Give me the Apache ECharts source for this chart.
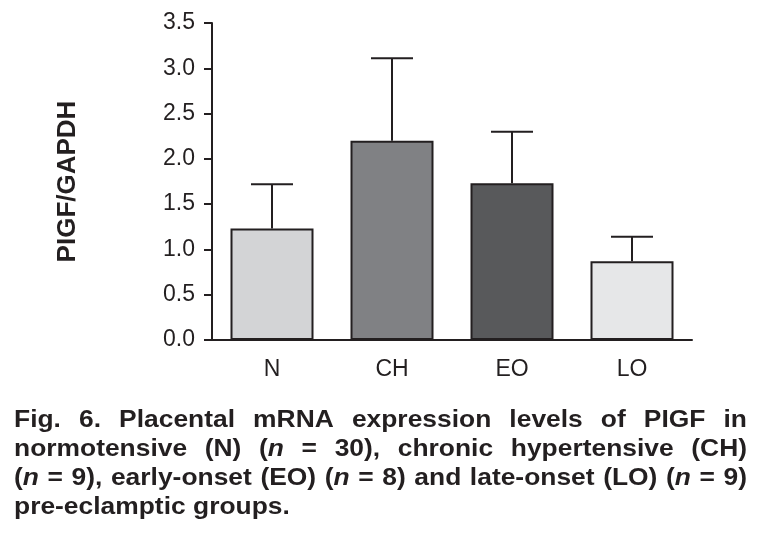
<!DOCTYPE html>
<html><head><meta charset="utf-8">
<script src="https://cdn.jsdelivr.net/npm/echarts@6/dist/echarts.min.js"></script>
<style>html,body{margin:0;padding:0;background:#fff}#c{width:761px;height:535px}</style>
</head><body><div id="c"></div>
<script>
// ---- data ----
const categories = ['N', 'CH', 'EO', 'LO'];
const means = [1.23, 2.20, 1.73, 0.87];
const sems = [0.49, 0.91, 0.57, 0.27];
const barColors = ['#d3d4d6', '#808184', '#58595b', '#e6e7e8'];
const yMin = 0, yMax = 3.5, yStep = 0.5;
const yAxisTitle = 'PIGF/GAPDH';
// *n* marks italic text
const captionLines = [
  'Fig. 6. Placental mRNA expression levels of PIGF in',
  'normotensive (N) (*n* = 30), chronic hypertensive (CH)',
  '(*n* = 9), early-onset (EO) (*n* = 8) and late-onset (LO) (*n* = 9)',
  'pre-eclamptic groups.'
];
const captionJustify = [true, true, true, false];

// ---- styles ----
const INK = '#231f20';
const FF = '"Liberation Sans", Arial, Helvetica, sans-serif';

const chart = echarts.init(document.getElementById('c'), null, {renderer: 'canvas'});

// caption layout (text only)
const ctx = document.createElement('canvas').getContext('2d');
const CAP_FS = 24, CAP_SX = 1.1, CAP_L = 14, CAP_R = 747;
function segs(word) {
  return word.split('*').map((t, k) => ({t, it: k % 2 === 1})).filter(s => s.t.length);
}
function fontOf(it) { return (it ? 'italic ' : '') + 'bold ' + CAP_FS + 'px ' + FF; }
function mw(s) { ctx.font = fontOf(s.it); return ctx.measureText(s.t).width; }
const graphics = [];
captionLines.forEach((line, li) => {
  const words = line.split(' ').map(segs);
  const nat = words.map(w => w.reduce((a, s) => a + mw(s), 0));
  const natSum = nat.reduce((a, b) => a + b, 0);
  ctx.font = fontOf(false);
  const sp = ctx.measureText(' ').width;
  const W = CAP_R - CAP_L;
  let sx = CAP_SX;
  let gap = sp * sx;
  if (captionJustify[li]) {
    const minGap = sp * 0.8;
    if (natSum * sx + minGap * (words.length - 1) > W) sx = (W - minGap * (words.length - 1)) / natSum;
    gap = (W - natSum * sx) / (words.length - 1);
  }
  const baseY = 428.5 + 29 * li;
  let x = CAP_L;
  words.forEach((w, wi) => {
    let xx = x;
    w.forEach(s => {
      graphics.push({
        type: 'text', x: xx, y: baseY - 8.5, scaleX: sx, silent: true,
        style: {text: s.t, fill: INK, fontSize: CAP_FS, fontWeight: 'bold', fontStyle: s.it ? 'italic' : 'normal',
                fontFamily: FF, textAlign: 'left', textVerticalAlign: 'middle', verticalAlign: 'middle'}
      });
      xx += mw(s) * sx;
    });
    x += nat[wi] * sx + gap;
  });
});

const option = {
  animation: false,
  backgroundColor: '#ffffff',
  grid: {left: 212, right: 69, top: 23, bottom: 195, containLabel: false},
  xAxis: {
    type: 'category',
    data: categories,
    axisLine: {lineStyle: {color: INK, width: 2}},
    axisTick: {alignWithLabel: true, length: 10, lineStyle: {color: INK, width: 2}},
    axisLabel: {fontSize: 23, color: INK, margin: 18, fontFamily: FF}
  },
  yAxis: {
    type: 'value',
    min: yMin, max: yMax, interval: yStep,
    name: yAxisTitle,
    nameLocation: 'middle',
    nameRotate: 90,
    nameGap: 131,
    nameTextStyle: {fontSize: 26, fontWeight: 'bold', color: INK, fontFamily: FF},
    splitLine: {show: false},
    axisLine: {show: true, lineStyle: {color: INK, width: 2}},
    axisTick: {show: true, length: 8, lineStyle: {color: INK, width: 2}},
    axisLabel: {fontSize: 23, color: INK, margin: 17, fontFamily: FF, formatter: v => v.toFixed(1)}
  },
  series: [
    {
      type: 'custom',
      data: categories.map((c, i) => [i, means[i], sems[i]]),
      encode: {x: 0, y: 1},
      z: 1,
      renderItem: (params, api) => {
        const i = api.value(0), m = api.value(1), e = api.value(2);
        const b = api.coord([i, m]);
        const t = api.coord([i, m + e]);
        const half = 21;
        const st = {stroke: INK, lineWidth: 2};
        return {type: 'group', children: [
          {type: 'line', shape: {x1: b[0], y1: b[1], x2: t[0], y2: t[1]}, style: st},
          {type: 'line', shape: {x1: t[0] - half, y1: t[1], x2: t[0] + half, y2: t[1]}, style: st}
        ]};
      }
    },
    {
      type: 'bar',
      z: 2,
      barWidth: 83,
      data: means.map((v, i) => ({value: v, itemStyle: {color: barColors[i]}})),
      itemStyle: {borderColor: INK, borderWidth: 2}
    }
  ],
  graphic: graphics
};
chart.setOption(option);
</script>
</body></html>
